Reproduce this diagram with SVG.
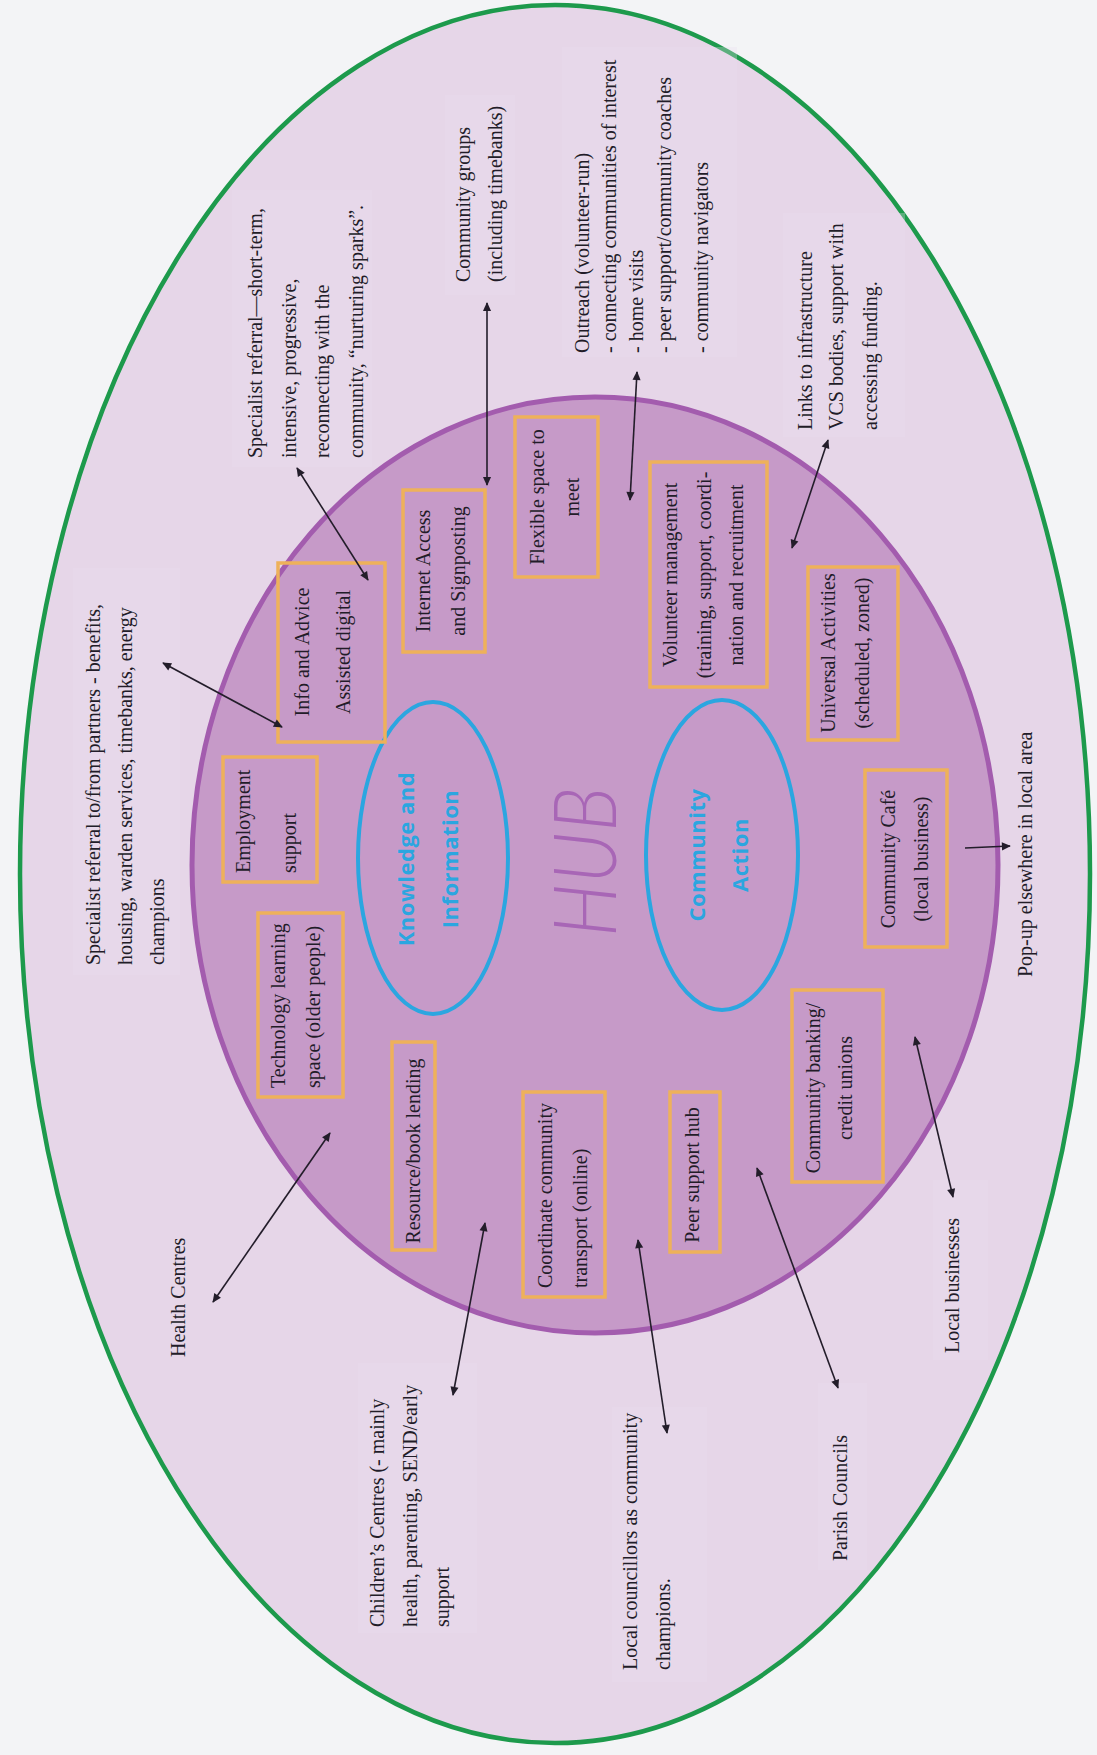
<svg xmlns="http://www.w3.org/2000/svg" width="1097" height="1755" viewBox="0 0 1097 1755">
<defs>
<style>
.t{font-family:"Liberation Serif","Times New Roman",serif;font-size:20px;fill:#221c28}
.box{fill:none;stroke:#eeb15a;stroke-width:3.5}
.lbl{fill:#ebdeed;stroke:none;opacity:0.3}
.blue{fill:none;stroke:#2ba6e0;stroke-width:4}
.bt{font-family:"Open Sans","DejaVu Sans",sans-serif;font-weight:bold;font-size:22px;fill:#2ba6e0;letter-spacing:0.5px}
.c{stroke:#231d2a;stroke-width:1.6;fill:none}
</style>
<marker id="ah" viewBox="0 0 10 10" refX="9" refY="5" markerWidth="11" markerHeight="9" markerUnits="userSpaceOnUse" orient="auto-start-reverse">
<path d="M0,0.5 L10,5 L0,9.5 z" fill="#231d2a"/>
</marker>
</defs>
<rect width="1097" height="1755" fill="#f3f4f6"/>
<g id="outer">
<ellipse cx="555" cy="874" rx="535" ry="869" fill="#e6d6e8" stroke="#1d9a4c" stroke-width="4.5"/>
</g>
<g id="labelboxes">
<rect class="lbl" x="232" y="190" width="140" height="277"/>
<rect class="lbl" x="445" y="95" width="70" height="200"/>
<rect class="lbl" x="562" y="47" width="175" height="310"/>
<rect class="lbl" x="783" y="213" width="122" height="224"/>
<rect class="lbl" x="73" y="568" width="107" height="407"/>
<rect class="lbl" x="358" y="1363" width="119" height="270"/>
<rect class="lbl" x="612" y="1407" width="95" height="275"/>
<rect class="lbl" x="818" y="1383" width="49" height="187"/>
<rect class="lbl" x="933" y="1180" width="55" height="180"/>
</g>
<g id="hub">
<ellipse cx="595" cy="865" rx="403" ry="468" fill="#c69ac8" stroke="#a35cae" stroke-width="5"/>
<text transform="translate(616,862) rotate(-90)" text-anchor="middle" textLength="150" lengthAdjust="spacingAndGlyphs" style="font-family:Lato,'Open Sans',sans-serif;font-style:italic;font-weight:300;font-size:86px;fill:#a866b6">HUB</text>
</g>
<g id="knowledge">
<ellipse class="blue" cx="433" cy="858" rx="75" ry="156"/>
<text class="bt" transform="translate(414,859) rotate(-90)" text-anchor="middle"><tspan x="0" y="0">Knowledge and</tspan><tspan x="0" dy="44">Information</tspan></text>
</g>
<g id="community-action">
<ellipse class="blue" cx="722" cy="855" rx="76" ry="155"/>
<text class="bt" transform="translate(705,855) rotate(-90)" text-anchor="middle"><tspan x="0" y="0">Community</tspan><tspan x="0" dy="43">Action</tspan></text>
</g>
<g id="info-advice">
<rect class="box" x="278" y="563" width="107" height="179"/>
<text class="t" transform="translate(309,652) rotate(-90)" text-anchor="middle"><tspan x="0" y="0">Info and Advice</tspan><tspan x="0" dy="41">Assisted digital</tspan></text>
</g>
<g id="internet-access">
<rect class="box" x="403" y="490" width="82" height="162"/>
<text class="t" transform="translate(430,571) rotate(-90)" text-anchor="middle"><tspan x="0" y="0">Internet Access</tspan><tspan x="0" dy="35">and Signposting</tspan></text>
</g>
<g id="flexible-space">
<rect class="box" x="515" y="417" width="83" height="160"/>
<text class="t" transform="translate(544,497) rotate(-90)" text-anchor="middle"><tspan x="0" y="0">Flexible space to</tspan><tspan x="0" dy="35">meet</tspan></text>
</g>
<g id="volunteer-management">
<rect class="box" x="650" y="462" width="117" height="225"/>
<text class="t" transform="translate(677,575) rotate(-90)" text-anchor="middle"><tspan x="0" y="0">Volunteer management</tspan><tspan x="0" dy="34">(training, support, coordi-</tspan><tspan x="0" dy="32">nation and recruitment</tspan></text>
</g>
<g id="universal-activities">
<rect class="box" x="808" y="567" width="90" height="173"/>
<text class="t" transform="translate(835,653) rotate(-90)" text-anchor="middle"><tspan x="0" y="0">Universal Activities</tspan><tspan x="0" dy="34">(scheduled, zoned)</tspan></text>
</g>
<g id="community-cafe">
<rect class="box" x="865" y="770" width="82" height="177"/>
<text class="t" transform="translate(895,859) rotate(-90)" text-anchor="middle"><tspan x="0" y="0">Community Café</tspan><tspan x="0" dy="33">(local business)</tspan></text>
</g>
<g id="community-banking">
<rect class="box" x="792" y="990" width="91" height="192"/>
<text class="t" transform="translate(820,1088) rotate(-90)" text-anchor="middle"><tspan x="0" y="0">Community banking/</tspan><tspan x="0" dy="32">credit unions</tspan></text>
</g>
<g id="peer-support">
<rect class="box" x="670" y="1092" width="50" height="160"/>
<text class="t" transform="translate(699,1175) rotate(-90)" text-anchor="middle">Peer support hub</text>
</g>
<g id="coordinate-transport">
<rect class="box" x="523" y="1092" width="82" height="205"/>
<text class="t" transform="translate(552,1288) rotate(-90)"><tspan x="0" y="0">Coordinate community</tspan><tspan x="0" dy="35">transport (online)</tspan></text>
</g>
<g id="resource-lending">
<rect class="box" x="392" y="1042" width="43" height="208"/>
<text class="t" transform="translate(420,1151) rotate(-90)" text-anchor="middle">Resource/book lending</text>
</g>
<g id="technology-learning">
<rect class="box" x="258" y="913" width="85" height="184"/>
<text class="t" transform="translate(285,1088) rotate(-90)"><tspan x="0" y="0">Technology learning</tspan><tspan x="0" dy="35">space (older people)</tspan></text>
</g>
<g id="employment-support">
<rect class="box" x="223" y="757" width="94" height="125"/>
<text class="t" transform="translate(250,873) rotate(-90)"><tspan x="0" y="0">Employment</tspan><tspan x="0" dy="46">support</tspan></text>
</g>
<g id="specialist-referral-short">
<text class="t" transform="translate(262,458) rotate(-90)"><tspan x="0" y="0">Specialist referral—short-term,</tspan><tspan x="0" dy="33.5">intensive, progressive,</tspan><tspan x="0" dy="33.5">reconnecting with the</tspan><tspan x="0" dy="33.5">community, “nurturing sparks”.</tspan></text>
</g>
<g id="community-groups">
<text class="t" transform="translate(470,282) rotate(-90)"><tspan x="0" y="0">Community groups</tspan><tspan x="0" dy="32">(including timebanks)</tspan></text>
</g>
<g id="outreach">
<text class="t" transform="translate(589,353) rotate(-90)"><tspan x="0" y="0">Outreach (volunteer-run)</tspan><tspan x="0" dy="27">- connecting communities of interest</tspan><tspan x="0" dy="27">- home visits</tspan><tspan x="0" dy="28">- peer support/community coaches</tspan><tspan x="0" dy="37">- community navigators</tspan></text>
</g>
<g id="links-infrastructure">
<text class="t" transform="translate(812,430) rotate(-90)"><tspan x="0" y="0">Links to infrastructure</tspan><tspan x="0" dy="31">VCS bodies, support with</tspan><tspan x="0" dy="34">accessing funding.</tspan></text>
</g>
<g id="specialist-referral-partners">
<text class="t" transform="translate(100,965) rotate(-90)"><tspan x="0" y="0">Specialist referral to/from partners - benefits,</tspan><tspan x="0" dy="32">housing, warden services, timebanks, energy</tspan><tspan x="0" dy="32">champions</tspan></text>
</g>
<g id="health-centres">
<text class="t" transform="translate(185,1357) rotate(-90)">Health Centres</text>
</g>
<g id="childrens-centres">
<text class="t" transform="translate(384,1627) rotate(-90)"><tspan x="0" y="0">Children’s Centres (- mainly</tspan><tspan x="0" dy="33">health, parenting, SEND/early</tspan><tspan x="0" dy="32">support</tspan></text>
</g>
<g id="local-councillors">
<text class="t" transform="translate(637,1670) rotate(-90)"><tspan x="0" y="0">Local councillors as community</tspan><tspan x="0" dy="33">champions.</tspan></text>
</g>
<g id="parish-councils">
<text class="t" transform="translate(847,1561) rotate(-90)">Parish Councils</text>
</g>
<g id="local-businesses">
<text class="t" transform="translate(959,1353) rotate(-90)">Local businesses</text>
</g>
<g id="pop-up">
<text class="t" transform="translate(1032,977) rotate(-90)">Pop-up elsewhere in local area</text>
</g>
<g id="connectors">
<line class="c" x1="163" y1="663" x2="282" y2="727" marker-start="url(#ah)" marker-end="url(#ah)"/>
<line class="c" x1="297" y1="468" x2="368" y2="580" marker-start="url(#ah)" marker-end="url(#ah)"/>
<line class="c" x1="487" y1="303" x2="487" y2="485" marker-start="url(#ah)" marker-end="url(#ah)"/>
<line class="c" x1="637" y1="372" x2="630" y2="500" marker-start="url(#ah)" marker-end="url(#ah)"/>
<line class="c" x1="828" y1="440" x2="792" y2="548" marker-start="url(#ah)" marker-end="url(#ah)"/>
<line class="c" x1="965" y1="848" x2="1010" y2="846" marker-end="url(#ah)"/>
<line class="c" x1="915" y1="1037" x2="953" y2="1197" marker-start="url(#ah)" marker-end="url(#ah)"/>
<line class="c" x1="757" y1="1168" x2="838" y2="1388" marker-start="url(#ah)" marker-end="url(#ah)"/>
<line class="c" x1="638" y1="1240" x2="667" y2="1433" marker-start="url(#ah)" marker-end="url(#ah)"/>
<line class="c" x1="485" y1="1223" x2="453" y2="1395" marker-start="url(#ah)" marker-end="url(#ah)"/>
<line class="c" x1="330" y1="1133" x2="213" y2="1302" marker-start="url(#ah)" marker-end="url(#ah)"/>
</g>
</svg>
